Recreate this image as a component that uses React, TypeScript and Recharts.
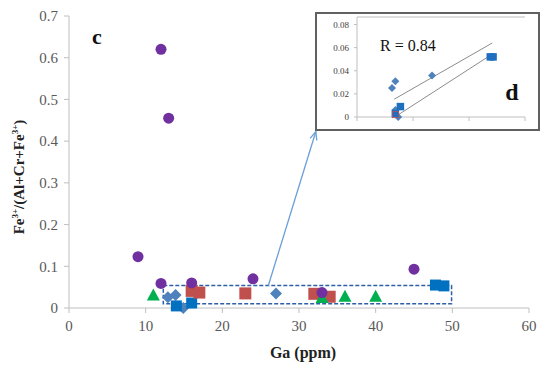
import React from 'react';
import { ScatterChart, Scatter, XAxis, YAxis, ReferenceArea, ReferenceLine } from 'recharts';

// main plot (c)
const purpleCircles = [
  { x: 12, y: 0.62 },
  { x: 13, y: 0.455 },
  { x: 9, y: 0.123 },
  { x: 12, y: 0.059 },
  { x: 16, y: 0.06 },
  { x: 24, y: 0.07 },
  { x: 45, y: 0.093 },
  { x: 33, y: 0.037 },
];
const greenTriangles = [
  { x: 11, y: 0.03 },
  { x: 33, y: 0.024 },
  { x: 36, y: 0.027 },
  { x: 40, y: 0.027 },
];
const redSquares = [
  { x: 16, y: 0.041 },
  { x: 17, y: 0.037 },
  { x: 23, y: 0.035 },
  { x: 32, y: 0.034 },
  { x: 34, y: 0.027 },
];
const blueSquares = [
  { x: 14, y: 0.005 },
  { x: 16, y: 0.012 },
  { x: 47.8, y: 0.055 },
  { x: 48.9, y: 0.053 },
];
const blueDiamonds = [
  { x: 12.9, y: 0.026 },
  { x: 13.9, y: 0.031 },
  { x: 14.9, y: 0.0 },
  { x: 27, y: 0.035 },
];
const xTicks = [0, 10, 20, 30, 40, 50, 60];
const yTicks = [0, 0.1, 0.2, 0.3, 0.4, 0.5, 0.6, 0.7];
const zoomBox = { x1: 12.3, x2: 49.9, y1: 0.01, y2: 0.054 };
const arrowSegment = [
  { x: 26, y: 0.054 },
  { x: 32.2, y: 0.423 },
];

// inset (d)
const insetDiamonds = [
  { x: 12.5, y: 0.025 },
  { x: 13.7, y: 0.031 },
  { x: 26.8, y: 0.036 },
  { x: 13.7, y: 0.006 },
  { x: 14.7, y: 0.0 },
];
const insetSquares = [
  { x: 15.5, y: 0.009 },
  { x: 13.7, y: 0.003 },
  { x: 47.6, y: 0.052 },
  { x: 48.6, y: 0.052 },
];
const insetRed = [{ x: 13.7, y: 0.002 }];
const upperTrend = [
  { x: 13.3, y: 0.0154 },
  { x: 48.3, y: 0.064 },
];
const lowerTrend = [
  { x: 14.6, y: 0.0017 },
  { x: 47.4, y: 0.053 },
];
const insetXTicks = [0, 20, 40, 60];
const insetYTicks = [0, 0.02, 0.04, 0.06, 0.08];

const FONT = '"Liberation Serif", "DejaVu Serif", serif';
const AXIS = '#bfbfbf';

const Circle = (p: any) => <circle cx={p.cx} cy={p.cy} r={5.5} fill="#7030a0" />;
const Square = (s: number, fill: string) => (p: any) =>
  <rect x={p.cx - s / 2} y={p.cy - s / 2} width={s} height={s} fill={fill} />;
const Diamond = (r: number) => (p: any) =>
  <polygon points={`${p.cx},${p.cy - r} ${p.cx + r},${p.cy} ${p.cx},${p.cy + r} ${p.cx - r},${p.cy}`} fill="#4f81bd" />;
const Triangle = (p: any) =>
  <polygon points={`${p.cx},${p.cy - 7} ${p.cx + 6.5},${p.cy + 5} ${p.cx - 6.5},${p.cy + 5}`} fill="#00b050" />;

const Arrow = (p: any) => {
  const { x1, y1, x2, y2 } = p;
  const a = Math.atan2(y2 - y1, x2 - x1);
  const h = 9;
  const l1 = [x2 - h * Math.cos(a - 0.4), y2 - h * Math.sin(a - 0.4)];
  const l2 = [x2 - h * Math.cos(a + 0.4), y2 - h * Math.sin(a + 0.4)];
  return (
    <g>
      <line x1={x1} y1={y1} x2={x2} y2={y2} stroke="#6a9fd8" strokeWidth={1.3} />
      <polyline points={`${l1[0]},${l1[1]} ${x2},${y2} ${l2[0]},${l2[1]}`} fill="none" stroke="#6a9fd8" strokeWidth={1.3} />
    </g>
  );
};

const YLabel = () => (
  <text
    transform="translate(24, 177) rotate(-90)"
    textAnchor="middle"
    fontFamily={FONT}
    fontWeight="bold"
    fontSize={15}
    fill="#222"
  >
    Fe<tspan fontSize={9} dy={-6}>3+</tspan>
    <tspan dy={6}>/(Al+Cr+Fe</tspan>
    <tspan fontSize={9} dy={-6}>3+</tspan>
    <tspan dy={6}>)</tspan>
  </text>
);

const XLabel = (props: any) => {
  const vb = props.viewBox;
  return (
    <text x={vb.x + vb.width / 2 + 4} y={358} textAnchor="middle" fontFamily={FONT} fontWeight="bold" fontSize={16} fill="#222">
      Ga (ppm)
    </text>
  );
};

const tickStyle = { fontFamily: FONT, fontSize: 15, fill: '#595959' };
const insetTick = { fontFamily: FONT, fontSize: 9, fill: '#404040' };

export default function App() {
  return (
    <div style={{ position: 'absolute', left: 0, top: 0, width: 550, height: 368, background: '#fff', fontFamily: FONT }}>
      <ScatterChart width={550} height={368} margin={{ top: 16, right: 21, left: 0, bottom: 0 }}>
        <XAxis
          type="number"
          dataKey="x"
          domain={[0, 60]}
          ticks={xTicks}
          height={60}
          stroke={AXIS}
          tick={tickStyle}
          tickSize={5}
          tickMargin={7}
          label={<XLabel />}
        />
        <YAxis
          type="number"
          dataKey="y"
          domain={[0, 0.7]}
          ticks={yTicks}
          width={69}
          stroke={AXIS}
          tick={tickStyle}
          tickSize={5}
          tickMargin={6}
          tickFormatter={(v: number) => String(Math.round(v * 10) / 10)}
          label={<YLabel />}
        />
        <ReferenceArea
          x1={zoomBox.x1}
          x2={zoomBox.x2}
          y1={zoomBox.y1}
          y2={zoomBox.y2}
          fill="none"
          stroke="#2e5fa8"
          strokeWidth={1.5}
          strokeDasharray="4 2"
        />
        <ReferenceLine
          segment={arrowSegment}
          shape={Arrow}
        />
        <Scatter data={blueDiamonds} shape={Diamond(6)} isAnimationActive={false} />
        <Scatter data={blueSquares} shape={Square(11, '#0070c0')} isAnimationActive={false} />
        <Scatter data={redSquares} shape={Square(12, '#c0504d')} isAnimationActive={false} />
        <Scatter data={greenTriangles} shape={Triangle} isAnimationActive={false} />
        <Scatter data={purpleCircles} shape={Circle} isAnimationActive={false} />
        <text x={97} y={44} textAnchor="middle" fontFamily={FONT} fontWeight="bold" fontSize={22} fill="#111">
          c
        </text>
      </ScatterChart>

      <div
        style={{
          position: 'absolute',
          left: 315,
          top: 12,
          width: 221,
          height: 115,
          border: '2px solid #606060',
          background: '#fff',
        }}
      >
        <ScatterChart width={221} height={115} margin={{ top: 3, right: 13, left: 0, bottom: 0 }}>
          <XAxis
            type="number"
            dataKey="x"
            domain={[0, 60]}
            ticks={insetXTicks}
            height={12}
            stroke={AXIS}
            tickSize={4}
            tickFormatter={() => ''}
          />
          <YAxis
            type="number"
            dataKey="y"
            domain={[0, 0.0865]}
            ticks={insetYTicks}
            width={40}
            stroke={AXIS}
            tick={insetTick}
            tickSize={3}
            tickMargin={5}
            tickFormatter={(v: number) => (v === 0 ? '0' : v.toFixed(2))}
          />
          <ReferenceLine y={0.0865} stroke={AXIS} />
          <ReferenceLine segment={upperTrend} stroke="#8c8c8c" strokeWidth={1} />
          <ReferenceLine segment={lowerTrend} stroke="#8c8c8c" strokeWidth={1} />
          <Scatter data={insetDiamonds} shape={Diamond(4)} isAnimationActive={false} />
          <Scatter data={insetSquares} shape={Square(7.5, '#1f6fc0')} isAnimationActive={false} />
          <Scatter
            data={insetRed}
            shape={(p: any) => <rect x={p.cx - 3} y={p.cy - 3} width={6} height={6} fill="none" stroke="#c0504d" strokeWidth={0.8} />}
            isAnimationActive={false}
          />
          <text x={63} y={37} fontFamily={FONT} fontSize={16} fill="#111">
            R = 0.84
          </text>
          <text x={195} y={86} textAnchor="middle" fontFamily={FONT} fontWeight="bold" fontSize={24} fill="#111">
            d
          </text>
        </ScatterChart>
      </div>
    </div>
  );
}
